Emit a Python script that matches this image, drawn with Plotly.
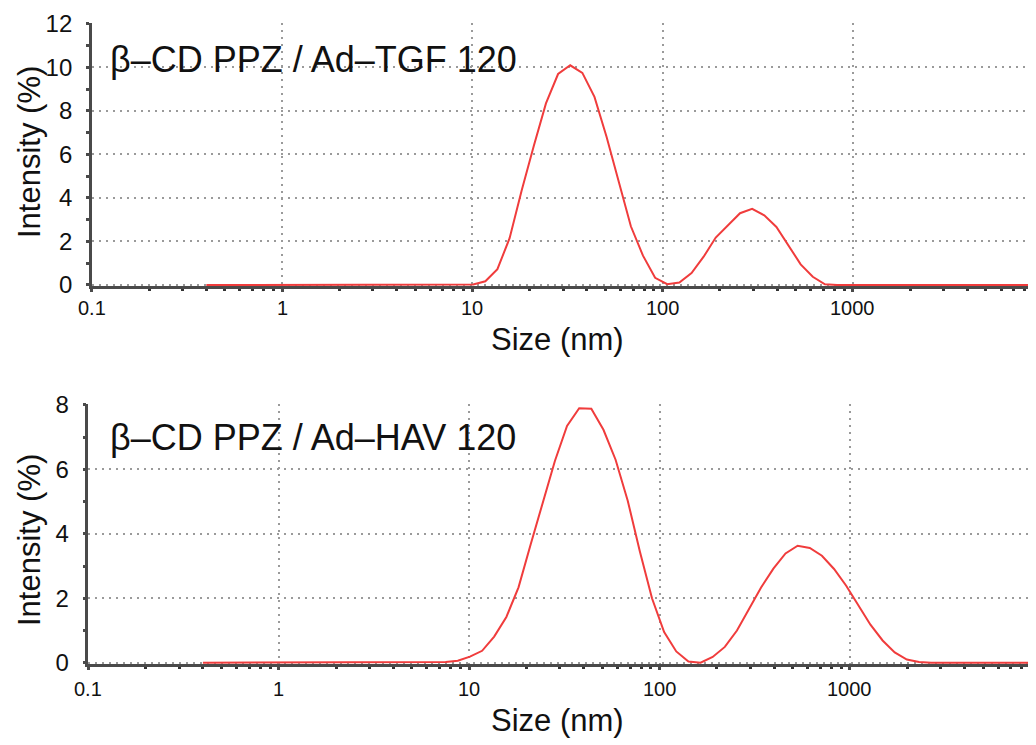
import math
import plotly.graph_objects as go

# Size bins (nm)
sizes = [0.4, 0.4632, 0.5365, 0.6213, 0.7195, 0.8332, 0.9649, 1.117, 1.294, 1.499,
         1.736, 2.010, 2.328, 2.696, 3.122, 3.615, 4.187, 4.849, 5.615, 6.503,
         7.531, 8.721, 10.10, 11.70, 13.54, 15.69, 18.17, 21.04, 24.36, 28.21,
         32.67, 37.84, 43.82, 50.75, 58.77, 68.06, 78.82, 91.28, 105.7, 122.4,
         141.8, 164.2, 190.1, 220.2, 255.0, 295.3, 342.0, 396.1, 458.7, 531.2,
         615.1, 712.4, 825.0, 955.4, 1106, 1281, 1484, 1718, 1990, 2305,
         2669, 3091, 3580, 4145, 4801, 5560, 6439, 7456, 8635, 10000]

# Intensity (%) - beta-CD PPZ / Ad-TGF 120
intensity_tgf = [0, 0, 0, 0, 0, 0, 0, 0, 0, 0,
                 0, 0, 0, 0, 0, 0, 0, 0, 0, 0,
                 0, 0, 0.02, 0.17, 0.73, 2.15, 4.35, 6.4, 8.35, 9.7,
                 10.1, 9.75, 8.65, 6.8, 4.75, 2.7, 1.35, 0.33, 0.04, 0.11,
                 0.55, 1.3, 2.18, 2.74, 3.3, 3.5, 3.2, 2.67, 1.8, 0.95,
                 0.38, 0.03, 0, 0, 0, 0, 0, 0, 0, 0,
                 0, 0, 0, 0, 0, 0, 0, 0, 0, 0]

# Intensity (%) - beta-CD PPZ / Ad-HAV 120
intensity_hav = [0, 0, 0, 0, 0, 0, 0, 0, 0, 0,
                 0, 0, 0, 0, 0, 0, 0, 0, 0, 0.01,
                 0.02, 0.06, 0.19, 0.37, 0.81, 1.42, 2.34, 3.67, 4.98, 6.26,
                 7.35, 7.9, 7.88, 7.23, 6.3, 5.03, 3.45, 2.0, 0.95, 0.35,
                 0.04, 0.0, 0.18, 0.49, 1.0, 1.67, 2.34, 2.92, 3.39, 3.63,
                 3.56, 3.32, 2.91, 2.39, 1.8, 1.18, 0.69, 0.32, 0.1, 0.02,
                 0, 0, 0, 0, 0, 0, 0, 0, 0, 0]

x_tick_vals = [0.1, 1, 10, 100, 1000]
x_tick_text = ["0.1", "1", "10", "100", "1000"]

labels = ["β–CD PPZ / Ad–TGF 120", "β–CD PPZ / Ad–HAV 120"]
x_label = "Size (nm)"
y_label = "Intensity (%)"

# page body has an 8px margin; figure sized to fit the 1036x745 window
OFF = 8
W, H = 1036 - OFF, 745 - OFF
FONT = "Liberation Sans, Arial, sans-serif"
RED = "#f03c3c"
AX = "#4a4a4a"
GRID = "#9a9a9a"


def px_x(px):
    return (px - OFF) / W


def px_y(py):
    return 1 - (py - OFF) / H


fig = go.Figure()
fig.add_trace(go.Scatter(x=sizes, y=intensity_tgf, mode="lines",
                         line=dict(color=RED, width=2), xaxis="x", yaxis="y",
                         showlegend=False))
fig.add_trace(go.Scatter(x=sizes, y=intensity_hav, mode="lines",
                         line=dict(color=RED, width=2), xaxis="x2", yaxis="y2",
                         showlegend=False))


def xax(x0px, rmax, anchor):
    return dict(type="log", domain=[px_x(x0px), 1], range=[-1, rmax], anchor=anchor,
                automargin=False,
                tickmode="linear", tick0=0, dtick=1, showticklabels=False,
                showline=True, linecolor=AX, linewidth=2.5, layer="below traces",
                ticks="outside", ticklen=3, tickwidth=2.5, tickcolor=AX,
                minor=dict(dtick="D1", ticks="outside", ticklen=2, tickwidth=3,
                           tickcolor="#333", showgrid=False),
                showgrid=True, gridcolor=GRID, gridwidth=2, griddash="2px,5px",
                zeroline=False)


def yax(dom, rng, anchor):
    return dict(domain=dom, range=rng, anchor=anchor,
                automargin=False,
                tickmode="linear", tick0=0, dtick=2,
                showline=True, linecolor=AX, linewidth=2.5, layer="below traces",
                ticks="outside", ticklen=3, tickwidth=2.5, tickcolor=AX,
                minor=dict(dtick=1, ticks="outside", ticklen=3, tickwidth=2.5,
                           tickcolor=AX, showgrid=False),
                showgrid=True, gridcolor=GRID, gridwidth=2, griddash="2px,5px",
                zeroline=False,
                tickfont=dict(family=FONT, size=24, color="#111"),
                ticklabelstandoff=9)


fig.update_layout(
    width=W, height=H,
    margin=dict(l=0, r=0, t=0, b=0, autoexpand=False),
    paper_bgcolor="white", plot_bgcolor="white",
    xaxis=xax(91.8, 3.962, "y"),
    yaxis=yax([px_y(286.3), px_y(23.1)], [-0.06, 12.04], "x"),
    xaxis2=xax(88.3, 3.977, "y2"),
    yaxis2=yax([px_y(664), px_y(404)], [-0.04, 8.03], "x2"),
)


def ann(text, xpx, ypx, size, xanchor="center", angle=0):
    fig.add_annotation(text=text, xref="paper", yref="paper",
                       x=px_x(xpx), y=px_y(ypx), xanchor=xanchor, yanchor="middle",
                       showarrow=False, textangle=angle,
                       font=dict(family=FONT, size=size, color="#111"))


# x tick labels placed at the data positions of each axis
for xref, ypx in (("x", 308), ("x2", 689)):
    for v, t in zip(x_tick_vals, x_tick_text):
        fig.add_annotation(text=t, xref=xref, yref="paper", x=math.log10(v),
                           y=px_y(ypx), xanchor="center", yanchor="middle",
                           showarrow=False,
                           font=dict(family=FONT, size=20, color="#111"))

ann(labels[0], 108, 59, 36, xanchor="left")
ann(labels[1], 108, 437.5, 36, xanchor="left")
ann(x_label, 557, 340, 31)
ann(x_label, 557, 720, 31)
ann(y_label, 29, 152, 31, angle=-90)
ann(y_label, 29, 540, 31, angle=-90)

fig.write_html("out.html")
